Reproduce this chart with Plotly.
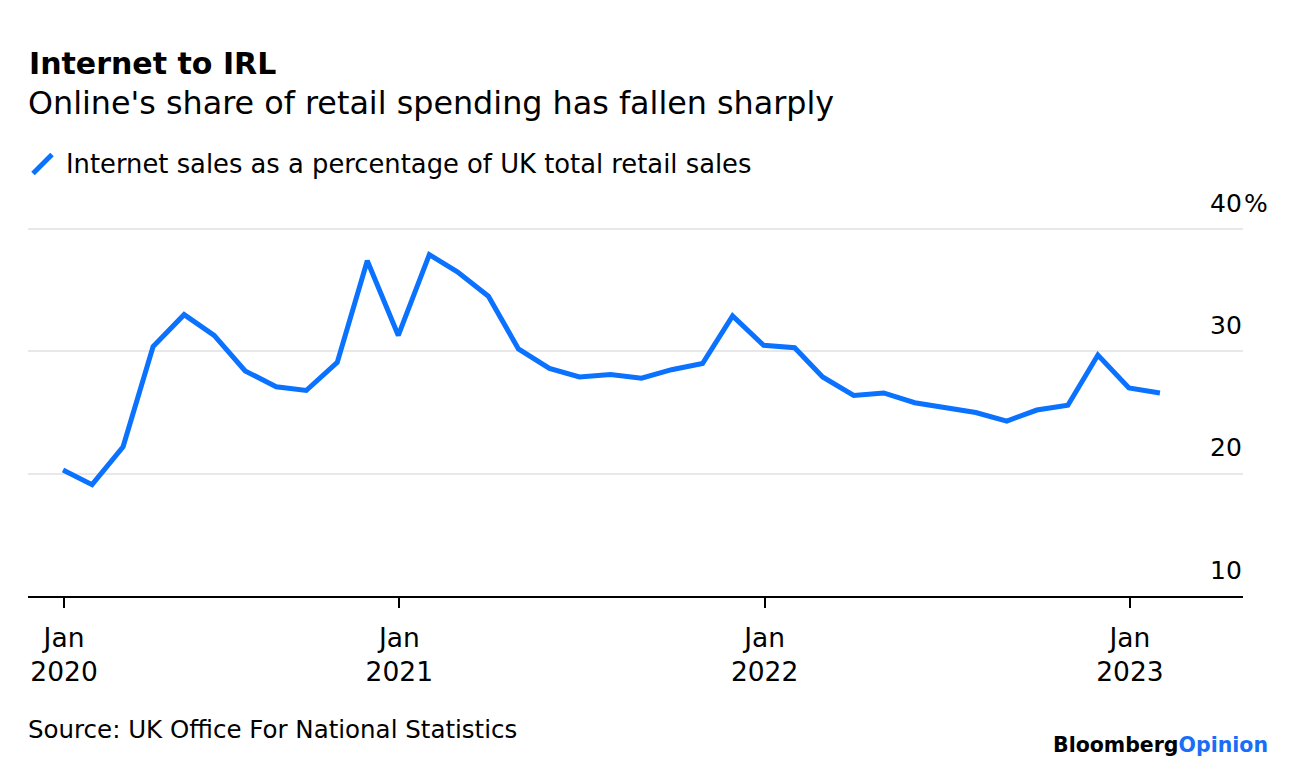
import pandas as pd
import plotly.graph_objects as go

# ---- data -------------------------------------------------------------
months = pd.date_range("2020-01-31", periods=37, freq="ME")  # Jan 2020 .. Jan 2023 (month-end)
internet_share = [
    20.3, 19.1, 22.2, 30.4, 33.0, 31.3, 28.4, 27.1, 26.8, 29.1, 37.4, 31.3,
    37.9, 36.5, 34.5, 30.2, 28.6, 27.9, 28.1, 27.8, 28.5, 29.0, 32.9, 30.5,
    30.3, 27.9, 26.4, 26.6, 25.8, 25.4, 25.0, 24.3, 25.2, 25.6, 29.7, 27.0,
    26.6,
]
series_name = "Internet sales as a percentage of UK total retail sales"
x_tick_vals = ["2020-02-01", "2021-01-01", "2022-01-01", "2023-01-01"]
x_tick_text = ["Jan<br>2020", "Jan<br>2021", "Jan<br>2022", "Jan<br>2023"]
y_ticks = [10, 20, 30, 40]

title = "Internet to IRL"
subtitle = "Online's share of retail spending has fallen sharply"
source = "Source: UK Office For National Statistics"

# ---- style ------------------------------------------------------------
FONT = "DejaVu Sans"
BLUE = "#0A72FF"
W, H = 1296, 770
ML, MR, MT, MB = 28, 53, 225, 174
PW, PH = W - ML - MR, H - MT - MB
PX_PER_UNIT = 367 / 30.0
Y_TOP = 10 + PH / PX_PER_UNIT


def xp(px):
    return (px - ML) / PW


def yp(py):
    return (H - MB - py) / PH


fig = go.Figure()
fig.add_trace(go.Scatter(
    x=months, y=internet_share, mode="lines", name=series_name,
    line=dict(color=BLUE, width=5), showlegend=False, hoverinfo="x+y",
))

fig.update_layout(
    width=W, height=H,
    margin=dict(l=ML, r=MR, t=MT, b=MB),
    paper_bgcolor="white", plot_bgcolor="white",
    font=dict(family=FONT, color="black"),
    xaxis=dict(
        range=["2019-12-27", "2023-04-24"],
        tickmode="array", tickvals=x_tick_vals, ticktext=x_tick_text,
        ticks="outside", ticklen=10, tickwidth=1.5, tickcolor="black",
        ticklabelstandoff=7,
        tickfont=dict(family=FONT, size=26.5, color="black"),
        showline=True, linecolor="black", linewidth=1.5,
        showgrid=False, zeroline=False,
    ),
    yaxis=dict(
        range=[10, Y_TOP], tickmode="array", tickvals=y_ticks,
        showticklabels=False, showgrid=True, gridcolor="#e8e8e8", gridwidth=1.5,
        zeroline=False, showline=False,
    ),
)

ann = []
ann.append(dict(text=f"<b>{title}</b>", x=xp(28), y=yp(63.5), xanchor="left", yanchor="middle",
                font=dict(size=30, family=FONT, color="black")))
ann.append(dict(text=subtitle, x=xp(27), y=yp(102), xanchor="left", yanchor="middle",
                font=dict(size=31.8, family=FONT, color="black")))
ann.append(dict(text=series_name, x=xp(65), y=yp(164), xanchor="left", yanchor="middle",
                font=dict(size=25.8, family=FONT, color="black")))
ann.append(dict(text=source, x=xp(27), y=yp(729), xanchor="left", yanchor="middle",
                font=dict(size=24.5, family=FONT, color="black")))
ann.append(dict(text="<b>Bloomberg</b><b><span style='color:#1a6ef5'>Opinion</span></b>",
                x=xp(1269), y=yp(744.7), xanchor="right", yanchor="middle",
                font=dict(size=20.5, family=FONT, color="black")))

for v in y_ticks:
    ann.append(dict(text=str(v), xref="paper", yref="y", x=1, y=v, yshift=26,
                    xanchor="right", yanchor="middle",
                    font=dict(size=25, family=FONT, color="black")))
ann.append(dict(text="%", xref="paper", yref="y", x=1, y=y_ticks[-1], yshift=26,
                xanchor="left", yanchor="middle",
                font=dict(size=25, family=FONT, color="black")))

for a in ann:
    a.setdefault("xref", "paper")
    a.setdefault("yref", "paper")
    a["showarrow"] = False
    a["borderpad"] = 0
fig.update_layout(annotations=ann)

# legend key: short slanted stroke
fig.add_shape(type="line", xref="paper", yref="paper",
              x0=xp(33), y0=yp(173.5), x1=xp(52), y1=yp(154.5),
              line=dict(color=BLUE, width=5))

fig.write_html("out.html", include_plotlyjs=True,
               config={"displayModeBar": False},
               post_script="document.body.style.margin='0px';")
